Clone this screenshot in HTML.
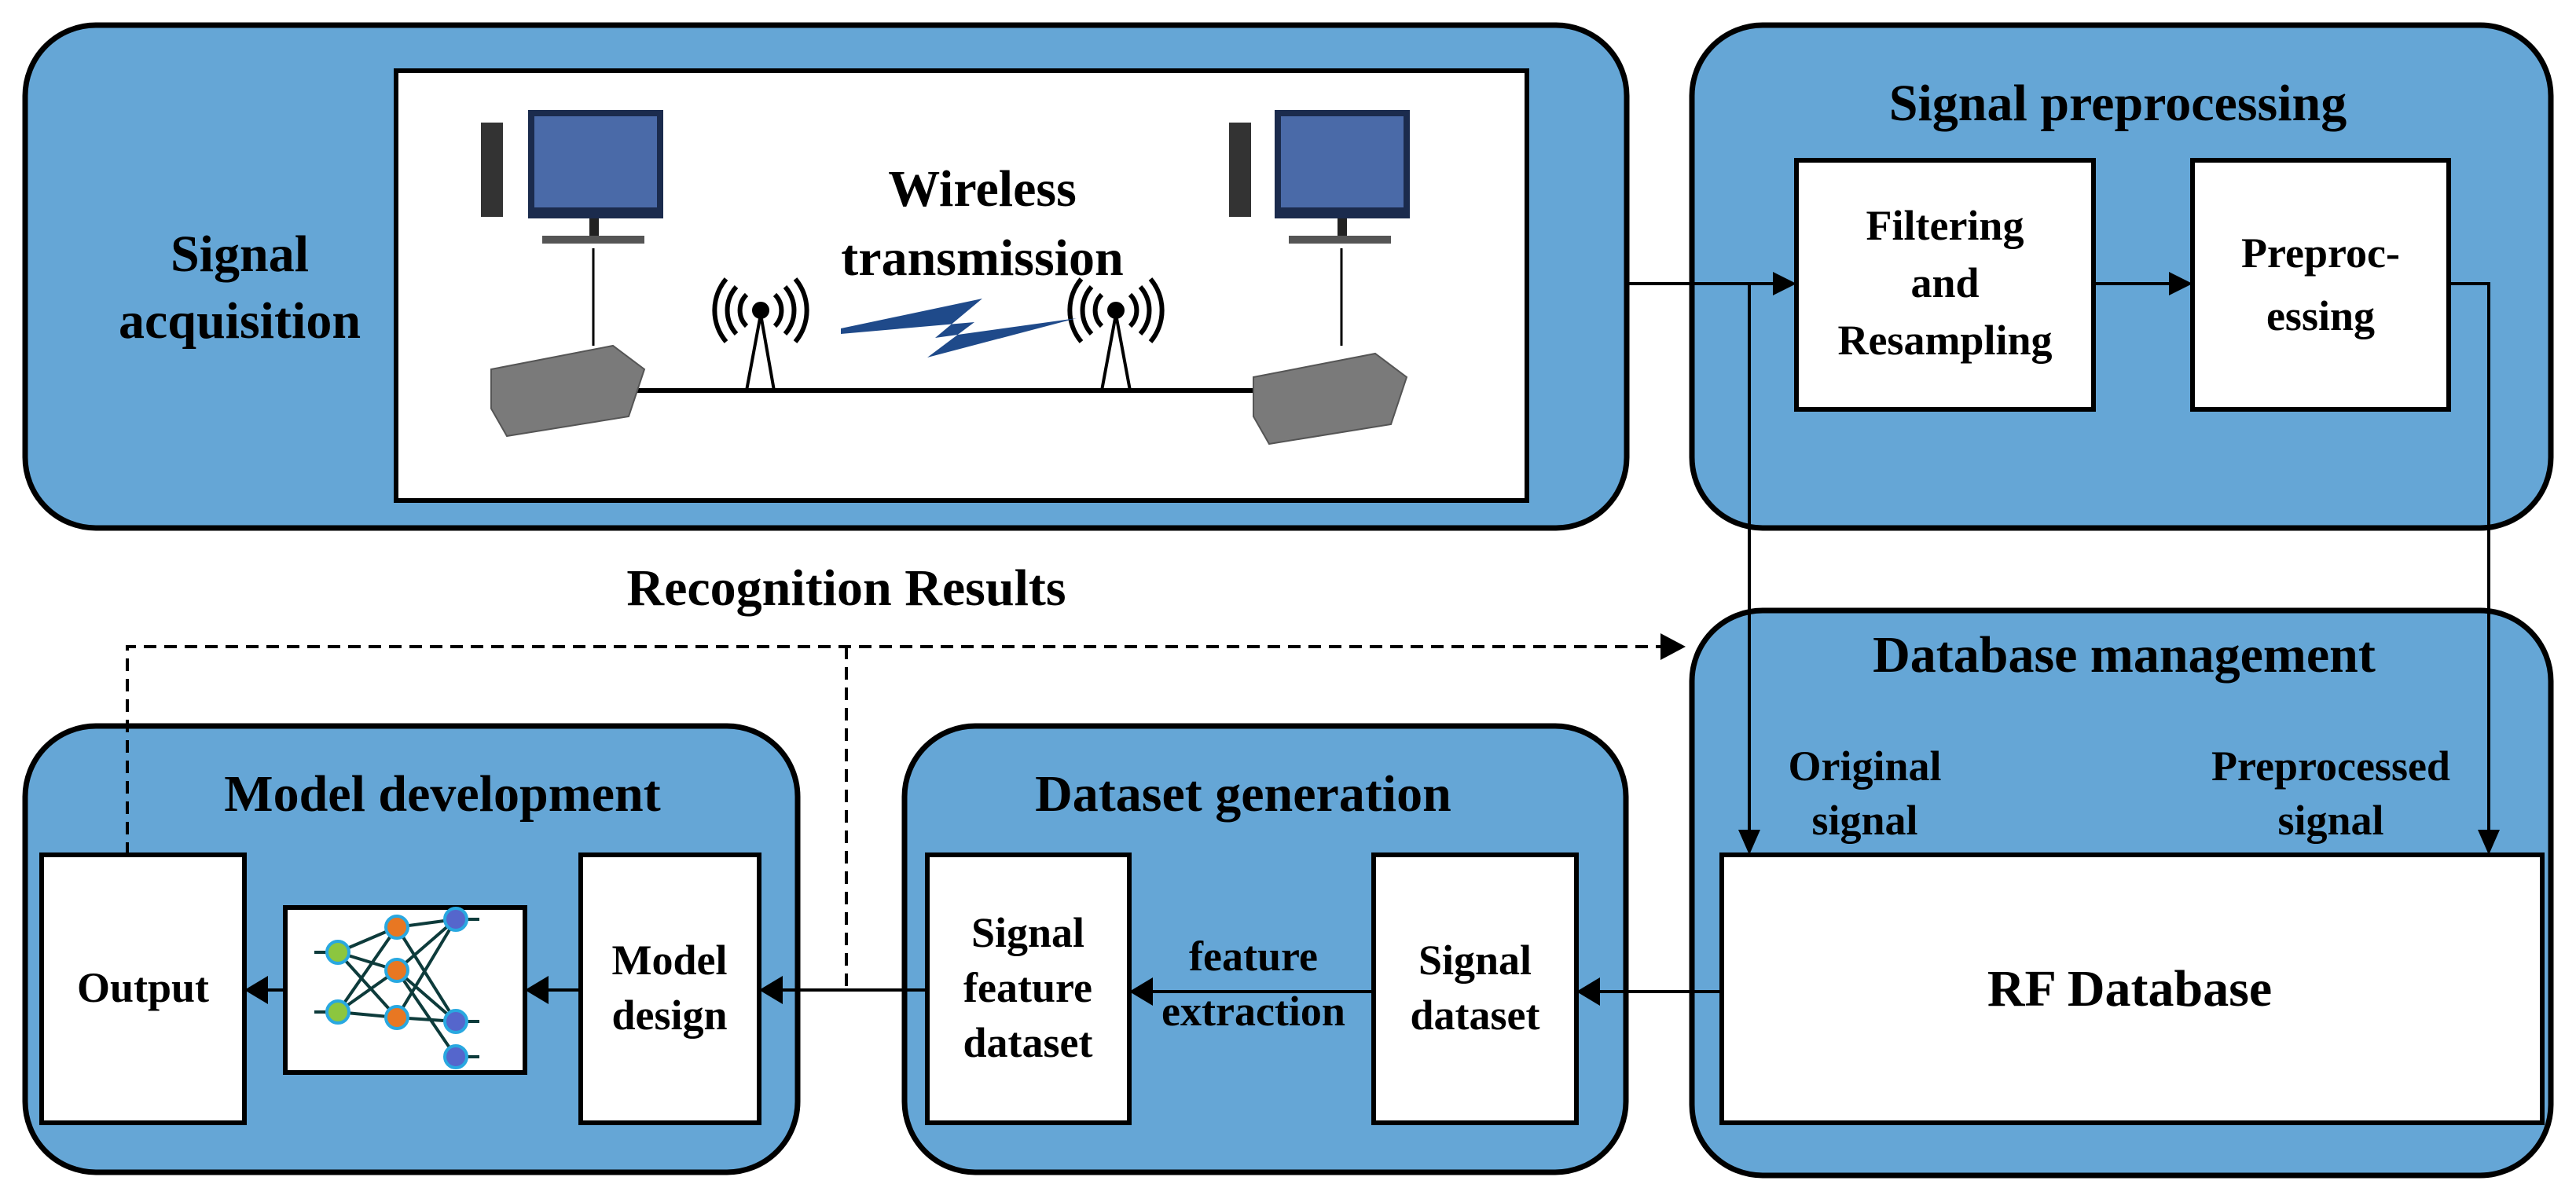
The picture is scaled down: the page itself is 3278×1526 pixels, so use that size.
<!DOCTYPE html>
<html><head><meta charset="utf-8"><style>
html,body{margin:0;padding:0;background:#fff}
svg{display:block}
text{font-family:"Liberation Serif",serif;fill:#000;text-anchor:middle;font-weight:bold}
</style></head><body>
<svg width="3278" height="1526" viewBox="0 0 3278 1526" xmlns="http://www.w3.org/2000/svg">
<g stroke="#000" stroke-width="7" fill="#65a6d6">
<rect x="32" y="32" width="2038" height="640" rx="90"/>
<rect x="2153" y="32" width="1093" height="640" rx="90"/>
<rect x="2153" y="777" width="1093" height="719" rx="90"/>
<rect x="1151" y="924" width="918" height="568" rx="90"/>
<rect x="32" y="924" width="983" height="568" rx="90"/>
</g>
<g stroke="#000" stroke-width="6" fill="#fff">
<rect x="504" y="90" width="1439" height="547"/>
<rect x="2286" y="204" width="378" height="317"/>
<rect x="2790" y="204" width="326" height="317"/>
<rect x="2191" y="1088" width="1044" height="341"/>
<rect x="1180" y="1088" width="257" height="341"/>
<rect x="1748" y="1088" width="258" height="341"/>
<rect x="53" y="1088" width="258" height="341"/>
<rect x="739" y="1088" width="227" height="341"/>
<rect x="363" y="1155" width="305" height="210"/>
</g>
<g stroke="#000" stroke-width="4" fill="none">
<path d="M2070 361 H2262"/>
<path d="M2226 361 V1064"/>
<path d="M2664 361 H2766"/>
<path d="M3116 361 H3167 V1064"/>
<path d="M2191 1262 H2030"/>
<path d="M1748 1262 H1460"/>
<path d="M1180 1260 H990"/>
<path d="M739 1260 H690"/>
<path d="M363 1260 H334"/>
</g>
<g stroke="#000" stroke-width="4" fill="none" stroke-dasharray="16 10">
<path d="M162 1088 V823 H2120"/>
<path d="M1077 823 V1260"/>
</g>
<g fill="#000">
<polygon points="2286,361 2256,346 2256,376"/>
<polygon points="2790,361 2760,346 2760,376"/>
<polygon points="2226,1088 2212,1056 2240,1056"/>
<polygon points="3167,1088 3153,1056 3181,1056"/>
<polygon points="2006,1262 2036,1244 2036,1280"/>
<polygon points="1437,1262 1467,1244 1467,1280"/>
<polygon points="966,1260 996,1242 996,1278"/>
<polygon points="668,1260 698,1242 698,1278"/>
<polygon points="311,1260 341,1242 341,1278"/>
<polygon points="2145,823 2113,806 2113,840"/>
</g>
<g>
<rect x="612" y="156" width="28" height="120" fill="#333"/>
<rect x="672" y="140" width="172" height="138" fill="#1b2b4d"/>
<rect x="680" y="148" width="156" height="116" fill="#4a6aa8"/>
<rect x="750" y="278" width="12" height="22" fill="#222"/>
<rect x="690" y="300" width="130" height="10" fill="#555"/>
<rect x="1564" y="156" width="28" height="120" fill="#333"/>
<rect x="1622" y="140" width="172" height="138" fill="#1b2b4d"/>
<rect x="1630" y="148" width="156" height="116" fill="#4a6aa8"/>
<rect x="1702" y="278" width="12" height="22" fill="#222"/>
<rect x="1640" y="300" width="130" height="10" fill="#555"/>
</g>
<g stroke="#000" stroke-width="3">
<path d="M755 316 V440"/><path d="M1707 316 V440"/>
</g>
<path d="M800 497 H1620" stroke="#000" stroke-width="6"/>
<g fill="#7a7a7a" stroke="#555" stroke-width="2">
<polygon points="625,470 780,440 820,470 800,530 645,555 625,520"/>
<polygon points="1595,480 1750,450 1790,480 1770,540 1615,565 1595,530"/>
</g>
<g stroke="#000" stroke-width="4" fill="none">
<path d="M950 497 L968 400 L985 497"/>
<path d="M1402 497 L1420 400 L1438 497"/>
</g>
<g stroke="#000" stroke-width="6" fill="none">
<circle cx="968" cy="395" r="8" fill="#000"/>
<path d="M950 375 a28 28 0 0 0 0 40 M986 375 a28 28 0 0 1 0 40"/>
<path d="M937 365 a45 45 0 0 0 0 60 M999 365 a45 45 0 0 1 0 60"/>
<path d="M924 355 a62 62 0 0 0 0 80 M1012 355 a62 62 0 0 1 0 80"/>
<circle cx="1420" cy="395" r="8" fill="#000"/>
<path d="M1402 375 a28 28 0 0 0 0 40 M1438 375 a28 28 0 0 1 0 40"/>
<path d="M1389 365 a45 45 0 0 0 0 60 M1451 365 a45 45 0 0 1 0 60"/>
<path d="M1376 355 a62 62 0 0 0 0 80 M1464 355 a62 62 0 0 1 0 80"/>
</g>
<polygon points="1070,418 1250,380 1190,430 1370,405 1180,455 1240,410 1070,425" fill="#1f4a8a"/>
<g stroke="#0d3b3b" stroke-width="4" fill="none">
<path d="M430 1212 L505 1180 L580 1170 M430 1212 L505 1235 L580 1300 M430 1288 L505 1235 L580 1345 M430 1288 L505 1295 L580 1300 M505 1180 L580 1300 M505 1295 L580 1170 M505 1235 L580 1170 M430 1212 L505 1295 M430 1288 L505 1180"/>
<path d="M400 1212 H430 M400 1288 H430 M580 1170 H610 M580 1300 H610 M580 1345 H610"/>
</g>
<g stroke="#29a8e0" stroke-width="4">
<circle cx="430" cy="1212" r="14" fill="#8cc63f"/><circle cx="430" cy="1288" r="14" fill="#8cc63f"/>
<circle cx="505" cy="1180" r="14" fill="#e87722"/><circle cx="505" cy="1235" r="14" fill="#e87722"/><circle cx="505" cy="1295" r="14" fill="#e87722"/>
<circle cx="580" cy="1170" r="14" fill="#5566cc"/><circle cx="580" cy="1300" r="14" fill="#5566cc"/><circle cx="580" cy="1345" r="14" fill="#5566cc"/>
</g>
<g font-size="66">
<text x="305" y="345">Signal</text>
<text x="305" y="430">acquisition</text>
<text x="1250" y="262">Wireless</text>
<text x="1250" y="350">transmission</text>
<text x="2695" y="153">Signal preprocessing</text>
<text x="2703" y="855">Database management</text>
<text x="1582" y="1032">Dataset generation</text>
<text x="563" y="1032">Model development</text>
<text x="2710" y="1280">RF Database</text>
<text x="1077" y="770">Recognition Results</text>
</g>
<g font-size="54">
<text x="2475" y="305">Filtering</text>
<text x="2475" y="378">and</text>
<text x="2475" y="451">Resampling</text>
<text x="2953" y="340">Preproc-</text>
<text x="2953" y="420">essing</text>
<text x="2373" y="993">Original</text>
<text x="2373" y="1062">signal</text>
<text x="2966" y="993">Preprocessed</text>
<text x="2966" y="1062">signal</text>
<text x="1308" y="1205">Signal</text>
<text x="1308" y="1275">feature</text>
<text x="1308" y="1345">dataset</text>
<text x="1595" y="1235">feature</text>
<text x="1595" y="1305">extraction</text>
<text x="1877" y="1240">Signal</text>
<text x="1877" y="1310">dataset</text>
<text x="182" y="1275">Output</text>
<text x="852" y="1240">Model</text>
<text x="852" y="1310">design</text>
</g>
</svg>
</body></html>
